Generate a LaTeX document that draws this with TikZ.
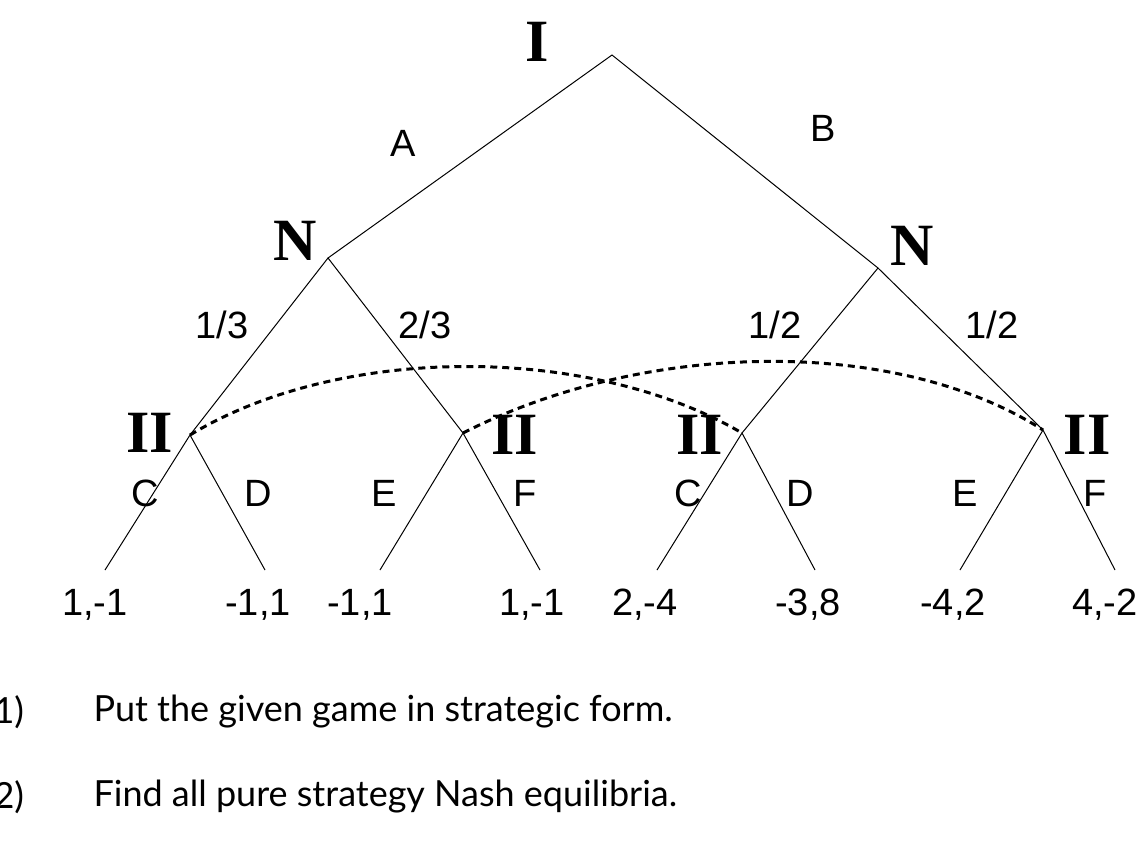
\documentclass[tikz,border=0pt]{standalone}
\usepackage{fontspec}
\setmainfont{Liberation Sans}
\newfontfamily\tms{Liberation Serif}
\newfontfamily\cms{Lato}
\begin{document}
\begin{tikzpicture}[x=1pt,y=-1pt,
 br/.style={line width=1pt},
 info/.style={line width=3pt,dash pattern=on 7pt off 5pt},
 pl/.style={font=\tms\bfseries\fontsize{60}{64}\selectfont},
 lb/.style={font=\fontsize{38}{42}\selectfont},
 tx/.style={font=\cms\fontsize{36}{40}\selectfont,anchor=west}]
\useasboundingbox (0,0) rectangle (1148,857);
\coordinate (r) at (612,55);
\coordinate (n1) at (328,258);
\coordinate (n2) at (878,268);
\coordinate (a) at (190,435);
\coordinate (b) at (463,433);
\coordinate (c) at (742,433);
\coordinate (d) at (1043,430);
\foreach \n/\x in {l1/105,l2/265,l3/380,l4/540,l5/657,l6/815,l7/960,l8/1115} \coordinate (\n) at (\x,570);
\draw[br] (n1)--(r)--(n2);
\draw[br] (a)--(n1)--(b);
\draw[br] (c)--(n2)--(d);
\draw[br] (l1)--(a)--(l2);
\draw[br] (l3)--(b)--(l4);
\draw[br] (l5)--(c)--(l6);
\draw[br] (l7)--(d)--(l8);
\draw[info] (a) .. controls (340,344) and (590,344) .. (c);
\draw[info] (b) .. controls (650,338) and (900,338) .. (d);
\node[pl] (pI) at (537,42) {I};
\node[pl] (pN1) at (295,241) {N};
\node[pl] (pN2) at (912,246) {N};
\node[pl] (p1) at (150,433) {II};
\node[pl] (p2) at (515,435) {II};
\node[pl] (p3) at (700,435) {II};
\node[pl] (p4) at (1087,435) {II};
\node[lb] (A) at (403,143) {A};
\node[lb] (B) at (823,128) {B};
\node[lb] (q1) at (222,325) {1/3};
\node[lb] (q2) at (425,325) {2/3};
\node[lb] (q3) at (775,325) {1/2};
\node[lb] (q4) at (992,325) {1/2};
\foreach \t/\x [count=\i] in {C/145,D/258,E/384,F/525,C/688,D/800,E/965,F/1095}
  \node[lb] (m\i) at (\x,493) {\t};
\foreach \t/\x [count=\i] in {{1,-1}/95,{-1,1}/258,{-1,1}/360,{1,-1}/532,{2,-4}/645,{-3,8}/808,{-4,2}/953,{4,-2}/1105}
  \node[lb] (v\i) at (\x,605) {\t};
\node[tx] (t1) at (-10,712) {1)};
\node[tx] (t1b) at (90,712) {Put the given game in strategic form.};
\node[tx] (t2) at (-10,797) {2)};
\node[tx] (t2b) at (90,797) {Find all pure strategy Nash equilibria.};
\end{tikzpicture}
\end{document}
